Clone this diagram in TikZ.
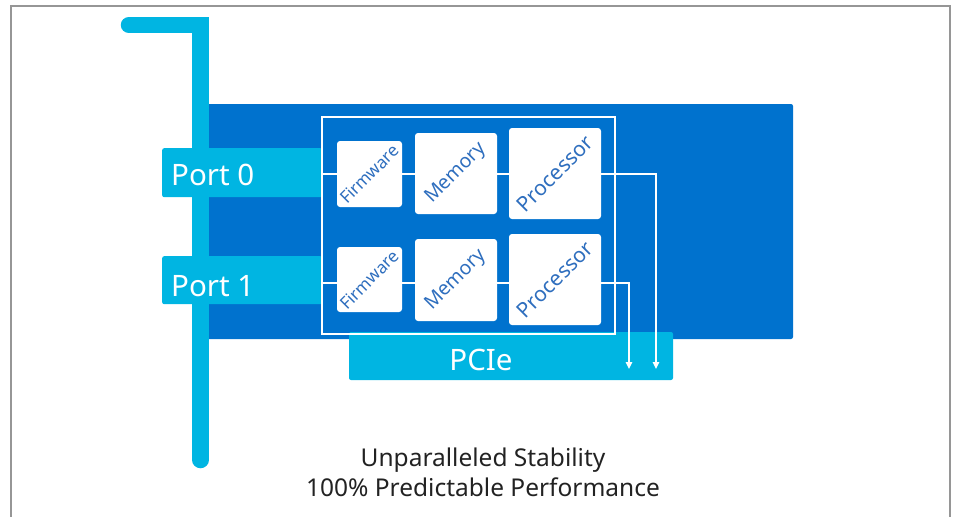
\documentclass[tikz,border=0pt]{standalone}
\usepackage{fontspec}
\setmainfont{Noto Sans}
\usetikzlibrary{arrows.meta}
\definecolor{board}{RGB}{0,114,206}
\definecolor{lightb}{RGB}{0,181,226}
\definecolor{lbl}{RGB}{46,110,190}
\definecolor{framec}{RGB}{150,150,150}
\definecolor{txt}{RGB}{34,34,34}
\tikzset{
  chip/.style={fill=white, rounded corners=3pt, inner sep=0pt, draw=none},
  chiplabel/.style={text=lbl, rotate=45, inner sep=0pt},
  portbox/.style={fill=lightb, rounded corners=2pt, inner sep=0pt, draw=none, anchor=north west},
  porttext/.style={text=white, font=\fontsize{29.5}{30}\selectfont, inner sep=0pt},
  conn/.style={draw=white, line width=1.4pt},
  arr/.style={conn, -{Triangle[length=7pt,width=6.5pt]}},
}
\begin{document}
\begin{tikzpicture}[x=1pt,y=1pt]
\useasboundingbox (0,0) rectangle (954,-517);
% outer frame
\draw[framec, line width=1.6pt] (11,-517) -- (11,-6) -- (950,-6) -- (950,-517);
% board
\fill[board, rounded corners=2pt] (204,-104) rectangle (793,-339);
% bracket
\draw[lightb, line width=16.5pt, line cap=round] (129,-25) -- (200.5,-25) -- (200.5,-460);
% ports
\node[portbox, minimum width=160pt, minimum height=49pt] (port0) at (162,-148) {};
\node[portbox, minimum width=160pt, minimum height=48pt] (port1) at (162,-256) {};
\node[porttext, anchor=base west] (port0t) at (171,-185) {Port 0};
\node[porttext, anchor=base west] (port1t) at (171,-296) {Port 1};
% PCIe
\node[fill=lightb, rounded corners=2pt, minimum width=324pt, minimum height=48pt, inner sep=0pt] (pcie) at (511,-356) {};
\node[porttext, anchor=base] (pciet) at (481,-370) {PCIe};
% inner frame
\node[draw=white, line width=1.5pt, minimum width=293pt, minimum height=217pt, inner sep=0pt] (group) at (468.5,-225.5) {};
% chips
\node[chip, minimum width=65pt, minimum height=66pt, label={[chiplabel, font=\fontsize{17}{18}\selectfont]center:Firmware}] (fw0) at (369.5,-174) {};
\node[chip, minimum width=82pt, minimum height=81pt, label={[chiplabel, font=\fontsize{19.5}{20}\selectfont]center:Memory}] (mem0) at (456,-173.5) {};
\node[chip, minimum width=92pt, minimum height=91pt, label={[chiplabel, font=\fontsize{21}{22}\selectfont]center:Processor}] (pr0) at (555,-173.5) {};
\node[chip, minimum width=65pt, minimum height=65pt, label={[chiplabel, font=\fontsize{17}{18}\selectfont]center:Firmware}] (fw1) at (369.5,-279.5) {};
\node[chip, minimum width=82pt, minimum height=82pt, label={[chiplabel, font=\fontsize{19.5}{20}\selectfont]center:Memory}] (mem1) at (456,-280) {};
\node[chip, minimum width=92pt, minimum height=91pt, label={[chiplabel, font=\fontsize{21}{22}\selectfont]center:Processor}] (pr1) at (555,-279.5) {};
% connectors
\coordinate (r0) at (322,-174);
\coordinate (r1) at (322,-283);
\coordinate (a0) at (656,-369);
\coordinate (a1) at (629,-369);
\draw[conn] (r0) -- (fw0.west |- r0);
\draw[conn] (fw0.east |- r0) -- (mem0.west |- r0);
\draw[conn] (mem0.east |- r0) -- (pr0.west |- r0);
\draw[arr] (pr0.east |- r0) -| (a0);
\draw[conn] (r1) -- (fw1.west |- r1);
\draw[conn] (fw1.east |- r1) -- (mem1.west |- r1);
\draw[conn] (mem1.east |- r1) -- (pr1.west |- r1);
\draw[arr] (pr1.east |- r1) -| (a1);
% caption
\node[text=txt, font=\fontsize{24.5}{25}\selectfont, anchor=base, inner sep=0pt] (cap1) at (483,-466) {Unparalleled Stability};
\node[text=txt, font=\fontsize{24.5}{25}\selectfont, anchor=base, inner sep=0pt] (cap2) at (483,-496) {100\% Predictable Performance};
\end{tikzpicture}
\end{document}
